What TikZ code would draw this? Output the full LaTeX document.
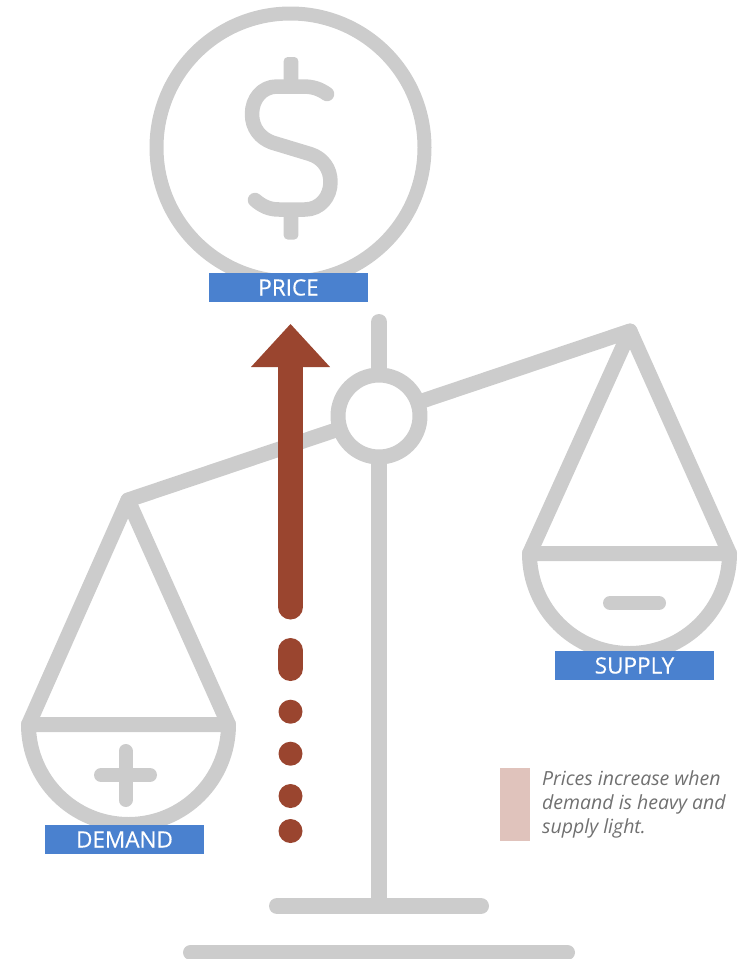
\documentclass[tikz,border=0pt]{standalone}
\usepackage{fontspec}
\setmainfont{Open Sans}
\newfontfamily\tagfont[FakeBold=0.25]{Open Sans}
\definecolor{grayline}{HTML}{CCCCCC}
\definecolor{tagblue}{HTML}{4A81CF}
\definecolor{brick}{HTML}{9A452F}
\definecolor{pinkbar}{HTML}{E0C3BC}
\definecolor{notegray}{HTML}{707070}
\tikzset{
  scaleline/.style={draw=grayline,line width=15pt,line cap=round,line join=round},
  tagbox/.style={fill=tagblue,text=white,minimum width=159pt,minimum height=29pt,inner sep=0pt,font=\tagfont\fontsize{22.5}{22.5}\selectfont,text height=16pt,text depth=0pt},
  brickline/.style={draw=brick,line width=25pt,line cap=round},
  brickdot/.style={circle,fill=brick,minimum size=24pt,inner sep=0pt},
}
\begin{document}
\begin{tikzpicture}[x=1pt,y=-1pt]
\useasboundingbox (0,0) rectangle (738,959);
% coin
\draw[grayline,line width=14pt] (290.5,147.5) circle[radius=134];
\fill[grayline,rounded corners=4pt] (283.7,57) rectangle (298.3,92);
\fill[grayline,rounded corners=4pt] (283.7,204) rectangle (298.3,239.5);
\draw[scaleline,line width=14.5pt]
  (327,94) .. controls (320,89) and (313,86.5) .. (303,86.5)
  -- (277,86.5) .. controls (262,86.5) and (252,99) .. (252,114)
  .. controls (252,128) and (260,138) .. (272,142.5)
  -- (310,154) .. controls (323,158) and (330.5,169) .. (330.5,182)
  .. controls (330.5,197) and (320,209.5) .. (305,209.5)
  -- (279,209.5) .. controls (269,209.5) and (262,206) .. (255,200);
% stand
\draw[scaleline,line width=16pt,line cap=butt] (379,322) -- (379,906);
\draw[scaleline,line width=16pt,line cap=round] (379,322) -- (379,330);
\draw[scaleline,line width=16pt] (277,906) -- (481,906);
\draw[scaleline] (190.5,952.5) -- (567.5,952.5);
% beam and pans
\draw[scaleline] (128,500) -- (630,331);
\draw[scaleline,fill=white] (379,416) circle[radius=41];
\draw[scaleline] (28.5,724.5) -- (128,500) -- (228.5,724.5) -- cycle;
\draw[scaleline] (28.5,724.5) arc[start angle=180,end angle=0,radius=100];
\draw[scaleline] (529.5,553.5) -- (630,331) -- (729.5,553.5) -- cycle;
\draw[scaleline] (529.5,553.5) arc[start angle=180,end angle=0,radius=100];
% signs
\draw[scaleline,line width=14pt] (101,775) -- (150,775);
\draw[scaleline,line width=14pt] (125.5,751) -- (125.5,800);
\draw[scaleline,line width=14pt] (610,603) -- (659,603);
% labels
\node[tagbox] (price) at (288.5,287.5) {PRICE};
\node[tagbox] (demand) at (124.5,839.5) {DEMAND};
\node[tagbox] (supply) at (634.5,665.5) {SUPPLY};
% arrow
\draw[brickline] (290.5,360) -- (290.5,607);
\fill[brick] (251,367) -- (330,367) -- (290.5,324) -- cycle;
\draw[brickline] (290.5,650.5) -- (290.5,668.5);
\node[brickdot] (d1) at (290.5,711.7) {};
\node[brickdot] (d2) at (290.5,753.7) {};
\node[brickdot] (d3) at (290.5,796) {};
\node[brickdot] (d4) at (290.5,831) {};
% note
\fill[pinkbar] (500,767.5) rectangle (529.5,841);
\node[anchor=north west,inner sep=0pt,text=notegray,align=left,font=\fontsize{19.5}{24}\selectfont\itshape] (note) at (542,770.5) {Prices increase when\\demand is heavy and\\supply light.};
\end{tikzpicture}
\end{document}
